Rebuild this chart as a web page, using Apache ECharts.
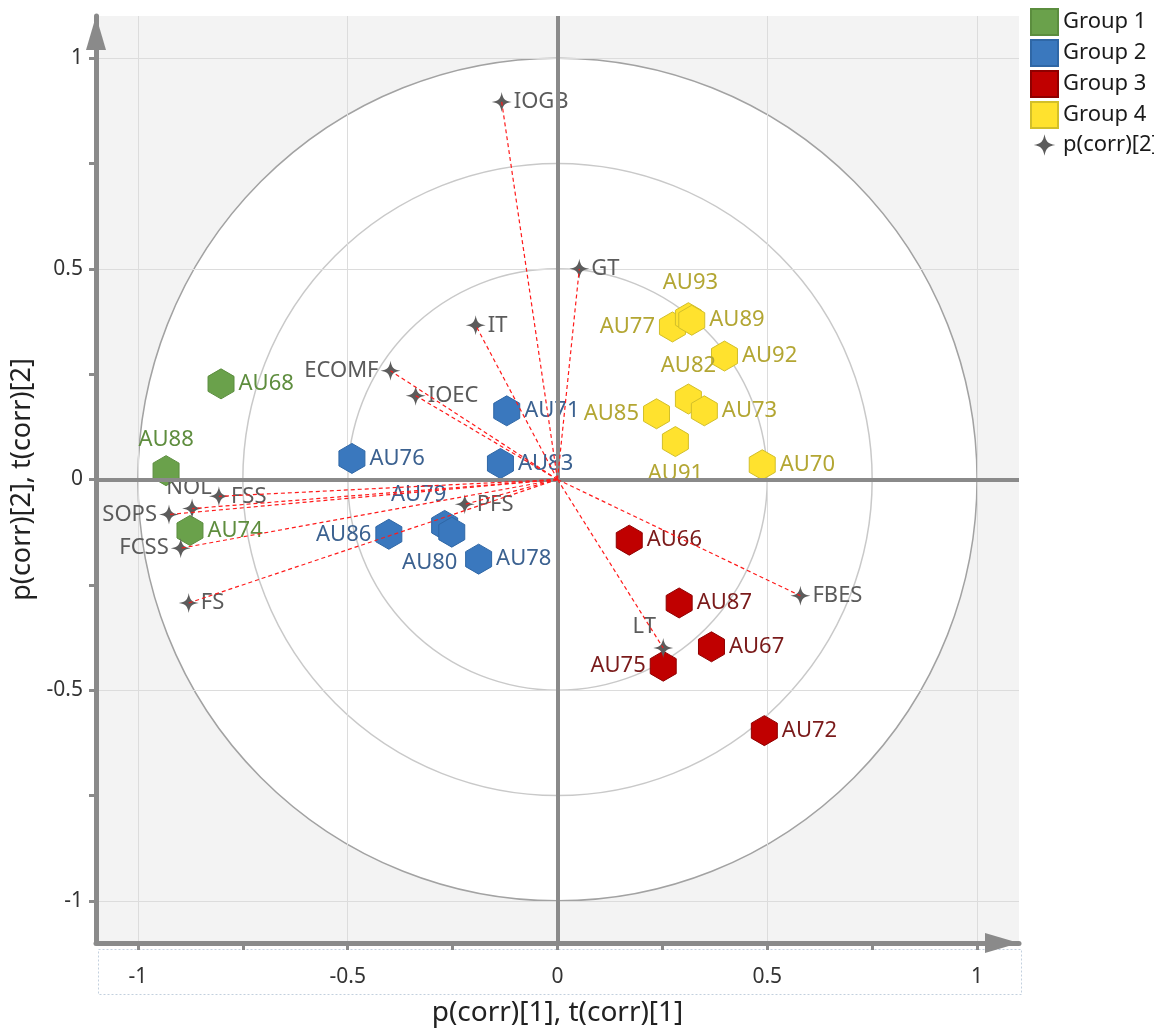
<!DOCTYPE html>
<html>
<head>
<meta charset="utf-8">
<script src="https://cdn.jsdelivr.net/npm/echarts@6/dist/echarts.min.js"></script>
<style>
  html, body { margin: 0; padding: 0; background: #ffffff; }
  #chart { width: 1154px; height: 1032px; }
</style>
</head>
<body>
<div id="chart"></div>
<script>
// ---- Scores (t(corr)[1], t(corr)[2]) per group ----
const group1Names = ['AU68', 'AU88', 'AU74'];
const group1Scores = [[-0.802, 0.227], [-0.933, 0.021], [-0.876, -0.121]];

const group2Names = ['AU71', 'AU76', 'AU83', 'AU79', 'AU80', 'AU86', 'AU78'];
const group2Scores = [[-0.121, 0.163], [-0.490, 0.050], [-0.136, 0.038], [-0.269, -0.109],
                      [-0.252, -0.125], [-0.402, -0.130], [-0.188, -0.189]];

const group3Names = ['AU66', 'AU87', 'AU67', 'AU75', 'AU72'];
const group3Scores = [[0.171, -0.144], [0.290, -0.293], [0.367, -0.397], [0.252, -0.443], [0.493, -0.596]];

const group4Names = ['AU77', 'AU93', 'AU89', 'AU92', 'AU82', 'AU73', 'AU85', 'AU91', 'AU70'];
const group4Scores = [[0.274, 0.362], [0.312, 0.384], [0.320, 0.378], [0.398, 0.293], [0.312, 0.191],
                      [0.350, 0.163], [0.236, 0.156], [0.281, 0.090], [0.488, 0.035]];

// ---- Loadings (p(corr)[1], p(corr)[2]) ----
const loadingNames = ['IOGB', 'GT', 'IT', 'ECOMF', 'IOEC', 'PFS', 'NOL', 'FSS', 'SOPS', 'FCSS', 'FS', 'FBES', 'LT'];
const loadingValues = [[-0.133, 0.896], [0.052, 0.500], [-0.195, 0.366], [-0.398, 0.258], [-0.338, 0.199],
                       [-0.221, -0.059], [-0.871, -0.069], [-0.807, -0.040], [-0.926, -0.083],
                       [-0.898, -0.163], [-0.879, -0.293], [0.579, -0.276], [0.252, -0.400]];

// ---- Reference circles and axis ticks ----
const circleRadii = [1, 0.75, 0.5];
const tickValues = [-1, -0.75, -0.5, -0.25, 0, 0.25, 0.5, 0.75, 1];
const labelValues = [-1, -0.5, 0, 0.5, 1];
const gridValues = [-1, -0.5, 0.5, 1];

const FONT = 'Noto Sans';
const HEX = 'path://M0,-1 L0.866,-0.5 L0.866,0.5 L0,1 L-0.866,0.5 L-0.866,-0.5 Z';
const STAR = 'path://M0,-10 C1.2,-3 3,-1.2 10,0 C3,1.2 1.2,3 0,10 C-1.2,3 -3,1.2 -10,0 C-3,-1.2 -1.2,-3 0,-10 Z';
const STAR_ICON = 'path://M-12,-12 M12,12 M0,-10 C1.4,-3 3,-1.4 10,0 C3,1.4 1.4,3 0,10 C-1.4,3 -3,1.4 -10,0 C-3,-1.4 -1.4,-3 0,-10 Z';

// label placement for each point label
const labelPlacement = {
  AU88: { position: 'top' },
  AU79: { position: 'top', offset: [-26, 0] },
  AU80: { position: 'bottom', offset: [-22, 0] },
  AU86: { position: 'left' },
  AU75: { position: 'left' },
  AU77: { position: 'left' },
  AU93: { position: 'top', offset: [2, -4] },
  AU82: { position: 'top', offset: [0, -3] },
  AU85: { position: 'left' },
  AU91: { position: 'bottom', offset: [0, 2] },
  ECOMF: { position: 'left' },
  NOL: { position: 'top', offset: [-3, 2] },
  SOPS: { position: 'left' },
  FCSS: { position: 'left' },
  LT: { position: 'top', offset: [-19, 2] }
};

function pointData(names, values) {
  return names.map((n, i) => {
    const p = labelPlacement[n] || { position: 'right' };
    return { name: n, value: values[i], label: { position: p.position, offset: p.offset || [0, 0] } };
  });
}

function groupSeries(name, names, scores, fill, border, textColor) {
  return {
    type: 'scatter',
    name: name,
    z: 3,
    symbol: HEX,
    symbolSize: 30,
    symbolKeepAspect: true,
    itemStyle: { color: fill, borderColor: border, borderWidth: 1, opacity: 1 },
    label: { show: true, formatter: '{b}', color: textColor, fontSize: 22, fontFamily: FONT, distance: 4 },
    emphasis: { disabled: true },
    data: pointData(names, scores)
  };
}

const chart = echarts.init(document.getElementById('chart'), null, { renderer: 'canvas' });

const axisLineColor = '#8a8a8a';

const option = {
  animation: false,
  backgroundColor: '#ffffff',
  textStyle: { fontFamily: FONT },
  grid: { left: 96, right: 135, top: 16, bottom: 86, containLabel: false },
  legend: {
    orient: 'vertical',
    left: 1030,
    top: 8,
    padding: 0,
    itemWidth: 27,
    itemHeight: 26,
    itemGap: 3,
    icon: 'rect',
    selectedMode: false,
    textStyle: { fontSize: 22, color: '#1a1a1a', fontFamily: FONT },
    data: [
      { name: 'Group 1' }, { name: 'Group 2' }, { name: 'Group 3' }, { name: 'Group 4' },
      { name: 'p(corr)[2]', icon: STAR_ICON }
    ]
  },
  xAxis: [
    {
      type: 'value', min: -1.1, max: 1.1, position: 'bottom',
      axisLine: {
        show: true, onZero: false,
        lineStyle: { color: axisLineColor, width: 5 },
        symbol: ['none', 'triangle'], symbolSize: [20, 34], symbolOffset: [0, -17]
      },
      axisTick: { show: true, customValues: tickValues, length: 7, lineStyle: { color: axisLineColor, width: 3 } },
      axisLabel: { customValues: labelValues, formatter: v => String(v), color: '#333', fontSize: 21, margin: 24, fontFamily: FONT },
      splitLine: { show: false },
      name: 'p(corr)[1], t(corr)[1]', nameLocation: 'middle', nameGap: 56,
      nameTextStyle: { fontSize: 28, color: '#222', fontFamily: FONT }
    },
    {
      type: 'value', min: -1.1, max: 1.1, position: 'top',
      axisLine: { show: false }, axisLabel: { show: false },
      axisTick: { show: false, customValues: gridValues },
      splitLine: { show: true, lineStyle: { color: '#dcdcdc', width: 1 } }
    }
  ],
  yAxis: [
    {
      type: 'value', min: -1.1, max: 1.1, position: 'left',
      axisLine: {
        show: true, onZero: false,
        lineStyle: { color: axisLineColor, width: 5 },
        symbol: ['none', 'triangle'], symbolSize: [20, 34], symbolOffset: [0, -17]
      },
      axisTick: { show: true, customValues: tickValues, length: 7, lineStyle: { color: axisLineColor, width: 3 } },
      axisLabel: { customValues: labelValues, formatter: v => String(v), color: '#333', fontSize: 21, margin: 13, fontFamily: FONT },
      splitLine: { show: false },
      name: 'p(corr)[2], t(corr)[2]', nameLocation: 'middle', nameGap: 46,
      nameTextStyle: { fontSize: 27, color: '#222', fontFamily: FONT }
    },
    {
      type: 'value', min: -1.1, max: 1.1, position: 'right',
      axisLine: { show: false }, axisLabel: { show: false },
      axisTick: { show: false, customValues: gridValues },
      splitLine: { show: true, lineStyle: { color: '#dcdcdc', width: 1 } }
    }
  ],
  graphic: [
    {
      type: 'rect', left: 96, top: 947, silent: true, z: -5,
      shape: { width: 923, height: 45 },
      style: { fill: 'none', stroke: '#c3d0de', lineWidth: 1, lineDash: [2, 2] }
    }
  ],
  series: [
    // light backdrop with the white unit disk and correlation circles
    {
      type: 'custom',
      name: 'circles',
      z: -1,
      silent: true,
      clip: false,
      data: circleRadii.map(r => [r, 0]),
      renderItem: function (params, api) {
        const r = api.value(0);
        const c = api.coord([0, 0]);
        const s = api.size([r, r]);
        const outer = params.dataIndex === 0;
        const ring = {
          type: 'circle',
          x: c[0], y: c[1],
          scaleY: s[1] / s[0],
          shape: { cx: 0, cy: 0, r: s[0] },
          style: { fill: outer ? '#ffffff' : 'none', stroke: outer ? '#a2a2a2' : '#c9c9c9', lineWidth: 1.5 }
        };
        if (!outer) return ring;
        const cs = params.coordSys;
        return {
          type: 'group',
          children: [
            { type: 'rect', shape: { x: cs.x, y: cs.y, width: cs.width, height: cs.height }, style: { fill: '#f3f3f3' } },
            ring
          ]
        };
      }
    },
    // zero lines
    {
      type: 'scatter',
      name: 'origin',
      z: 1,
      data: [],
      markLine: {
        silent: true,
        symbol: ['none', 'none'],
        label: { show: false },
        lineStyle: { color: axisLineColor, width: 4, type: 'solid' },
        data: [{ xAxis: 0 }, { yAxis: 0 }]
      }
    },
    groupSeries('Group 1', group1Names, group1Scores, '#6aa14b', '#5b8d3e', '#5e8d3e'),
    groupSeries('Group 2', group2Names, group2Scores, '#3a78be', '#2f67a6', '#3b6190'),
    groupSeries('Group 3', group3Names, group3Scores, '#c00000', '#8f0000', '#7a1a1a'),
    groupSeries('Group 4', group4Names, group4Scores, '#ffe22e', '#d2bf2a', '#b3a633'),
    // loadings
    {
      type: 'scatter',
      name: 'p(corr)[2]',
      z: 4,
      symbol: STAR,
      symbolSize: 20,
      itemStyle: { color: '#5c5c5c', opacity: 1 },
      label: { show: true, formatter: '{b}', color: '#5b5b5b', fontSize: 22, fontFamily: FONT, distance: 2 },
      emphasis: { disabled: true },
      data: pointData(loadingNames, loadingValues)
    },
    // loading vectors from the origin
    {
      type: 'custom',
      name: 'vectors',
      z: 5,
      silent: true,
      data: loadingValues,
      renderItem: function (params, api) {
        const o = api.coord([0, 0]);
        const p = api.coord([api.value(0), api.value(1)]);
        return {
          type: 'line',
          shape: { x1: o[0], y1: o[1], x2: p[0], y2: p[1] },
          style: { stroke: '#ff1a1a', lineWidth: 1.2, lineDash: [4, 3] }
        };
      }
    }
  ]
};

chart.setOption(option);
</script>
</body>
</html>
